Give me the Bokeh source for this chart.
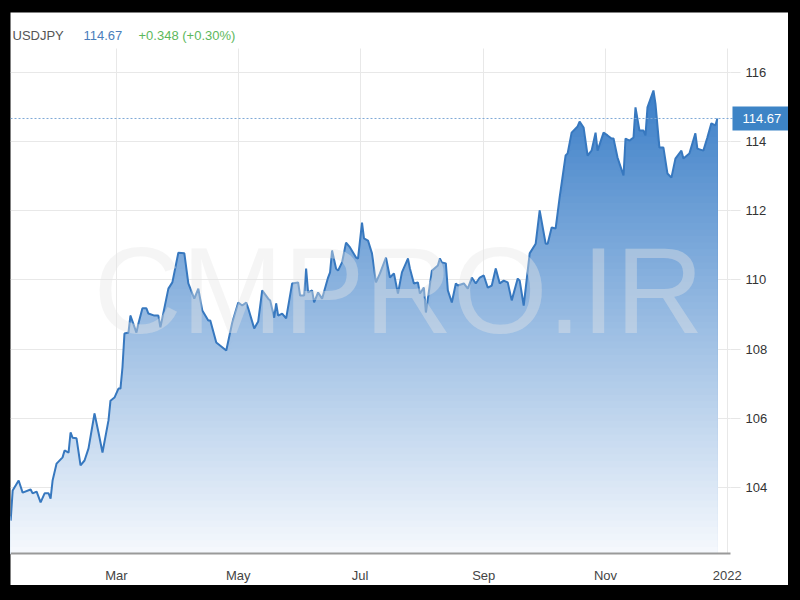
import numpy as np
import pandas as pd
from bokeh.plotting import figure
from bokeh.models import Range1d, FixedTicker, Span, Label
from bokeh.embed import file_html
from bokeh.resources import INLINE

symbol = "USDJPY"
last_price_text = "114.67"
change_text = "+0.348 (+0.30%)"
watermark = "CMPRO.IR"

dates = [
    "2021-01-07", "2021-01-08", "2021-01-11", "2021-01-13", "2021-01-17", "2021-01-18",
    "2021-01-20", "2021-01-22", "2021-01-24", "2021-01-26", "2021-01-27", "2021-01-28",
    "2021-01-30", "2021-02-02", "2021-02-03", "2021-02-05", "2021-02-06", "2021-02-07",
    "2021-02-09", "2021-02-11", "2021-02-13", "2021-02-15", "2021-02-18", "2021-02-20",
    "2021-02-22", "2021-02-25", "2021-02-26", "2021-02-28", "2021-03-02", "2021-03-03",
    "2021-03-04", "2021-03-05", "2021-03-07", "2021-03-08", "2021-03-11", "2021-03-12",
    "2021-03-14", "2021-03-16", "2021-03-17", "2021-03-20", "2021-03-22", "2021-03-23",
    "2021-03-27", "2021-03-29", "2021-04-01", "2021-04-04", "2021-04-06", "2021-04-09",
    "2021-04-11", "2021-04-13", "2021-04-16", "2021-04-17", "2021-04-20", "2021-04-25",
    "2021-04-28", "2021-05-01", "2021-05-03", "2021-05-05", "2021-05-06", "2021-05-09",
    "2021-05-11", "2021-05-13", "2021-05-16", "2021-05-17", "2021-05-19", "2021-05-20",
    "2021-05-21", "2021-05-23", "2021-05-25", "2021-05-28", "2021-05-31", "2021-06-01",
    "2021-06-03", "2021-06-04", "2021-06-05", "2021-06-07", "2021-06-08", "2021-06-10",
    "2021-06-12", "2021-06-15", "2021-06-16", "2021-06-17", "2021-06-19", "2021-06-20",
    "2021-06-22", "2021-06-24", "2021-06-26", "2021-06-29", "2021-06-30", "2021-07-02",
    "2021-07-03", "2021-07-05", "2021-07-07", "2021-07-09", "2021-07-11", "2021-07-14",
    "2021-07-16", "2021-07-18", "2021-07-20", "2021-07-22", "2021-07-25", "2021-07-26",
    "2021-07-28", "2021-07-30", "2021-07-31", "2021-08-02", "2021-08-03", "2021-08-06",
    "2021-08-09", "2021-08-10", "2021-08-11", "2021-08-13", "2021-08-14", "2021-08-16",
    "2021-08-18", "2021-08-19", "2021-08-22", "2021-08-24", "2021-08-26", "2021-08-28",
    "2021-08-30", "2021-09-01", "2021-09-03", "2021-09-05", "2021-09-07", "2021-09-09",
    "2021-09-11", "2021-09-13", "2021-09-15", "2021-09-18", "2021-09-19", "2021-09-21",
    "2021-09-24", "2021-09-27", "2021-09-29", "2021-10-02", "2021-10-03", "2021-10-05",
    "2021-10-07", "2021-10-09", "2021-10-12", "2021-10-13", "2021-10-15", "2021-10-18",
    "2021-10-19", "2021-10-21", "2021-10-23", "2021-10-25", "2021-10-27", "2021-10-28",
    "2021-10-31", "2021-11-02", "2021-11-04", "2021-11-05", "2021-11-07", "2021-11-10",
    "2021-11-11", "2021-11-13", "2021-11-15", "2021-11-16", "2021-11-18", "2021-11-20",
    "2021-11-21", "2021-11-22", "2021-11-25", "2021-11-26", "2021-11-28", "2021-11-30",
    "2021-12-02", "2021-12-04", "2021-12-06", "2021-12-09", "2021-12-10", "2021-12-13",
    "2021-12-16", "2021-12-17", "2021-12-20", "2021-12-22", "2021-12-24", "2021-12-26",
    "2021-12-27",
]

prices = [
    103.04, 103.91, 104.20, 103.85, 103.94, 103.83,
    103.88, 103.57, 103.83, 103.83, 103.68, 104.20,
    104.69, 104.87, 105.07, 105.01, 105.59, 105.44,
    105.42, 104.64, 104.78, 105.13, 106.14, 105.59,
    105.01, 105.94, 106.51, 106.60, 106.86, 106.86,
    107.47, 108.45, 108.48, 108.97, 108.48, 108.74,
    109.18, 109.18, 109.03, 108.97, 108.97, 108.63,
    109.75, 109.93, 110.79, 110.77, 109.90, 109.46,
    109.75, 109.12, 108.83, 108.83, 108.19, 107.96,
    108.77, 109.35, 109.26, 109.35, 109.18, 108.60,
    108.80, 109.70, 109.46, 109.41, 108.91, 109.32,
    108.97, 109.03, 108.89, 109.90, 109.93, 109.55,
    109.55, 110.33, 109.64, 109.70, 109.35, 109.64,
    109.46, 110.07, 110.22, 110.85, 110.33, 110.27,
    110.51, 111.08, 110.94, 110.65, 110.62, 111.66,
    111.20, 111.14, 110.77, 109.93, 110.19, 110.65,
    110.07, 110.19, 109.61, 110.22, 110.62, 110.33,
    109.90, 109.93, 109.61, 109.78, 109.06, 110.27,
    110.42, 110.62, 110.51, 110.48, 109.70, 109.35,
    109.90, 109.84, 109.90, 109.75, 110.07, 109.90,
    110.07, 110.13, 109.78, 109.84, 110.33, 109.90,
    109.98, 109.93, 109.41, 110.04, 109.98, 109.26,
    110.77, 111.05, 112.01, 111.05, 111.05, 111.52,
    111.49, 112.39, 113.60, 113.66, 114.26, 114.44,
    114.58, 114.41, 113.60, 113.74, 114.26, 113.74,
    114.26, 114.18, 114.09, 114.09, 113.54, 113.02,
    114.09, 114.03, 114.12, 114.99, 114.32, 114.32,
    114.18, 114.99, 115.48, 115.10, 113.83, 113.83,
    113.08, 112.96, 113.51, 113.74, 113.51, 113.66,
    114.24, 113.80, 113.74, 114.12, 114.53, 114.47,
    114.67,
]

last_price = 114.67
y_ticks = [104, 106, 108, 110, 112, 114, 116]
x_tick_dates = ["2021-03-01", "2021-05-01", "2021-07-01", "2021-09-01", "2021-11-01", "2022-01-01"]
x_tick_labels = ["Mar", "May", "Jul", "Sep", "Nov", "2022"]

FONT = "Liberation Sans"

x = pd.to_datetime(dates)
vals = np.array(prices, dtype=float)


def ms(ts):
    return float(pd.Timestamp(ts).value // 10**6)


# the frame covers the whole white panel; axes are pinned inside it
x_start = ms("2021-01-06 22:00")       # left edge of the chart
x_axis_end = ms("2022-01-02 14:00")    # right edge of the plotting area (y axis position)
x_end = ms("2022-01-31 15:30")         # right edge of the white panel
y_axis_pos = 102.09                     # x axis position (bottom of the plotting area)
y_plot_top = 116.69
y_start, y_end = 101.165, 117.735

p = figure(
    width=778, height=573,
    x_axis_type="datetime", y_axis_location="right",
    x_range=Range1d(x_start, x_end), y_range=Range1d(y_start, y_end),
    output_backend="svg", toolbar_location=None,
    min_border_left=0, min_border_right=0, min_border_top=0, min_border_bottom=0,
    background_fill_color="white", border_fill_color="white",
    outline_line_color=None,
)

# gradient area: stacked, progressively lower-capped layers
top_rgb = np.array([60, 127, 200], dtype=float)
bot_rgb = np.array([246, 249, 253], dtype=float)
ytop = vals.max()
n_bands = 70
caps = np.linspace(y_axis_pos, ytop, n_bands + 1)[1:]
step = caps[1] - caps[0]
for i, hi in enumerate(caps[::-1]):
    t = (hi - step / 2 - y_axis_pos) / (ytop - y_axis_pos)
    rgb = bot_rgb + (top_rgb - bot_rgb) * t
    col = "#%02x%02x%02x" % tuple(int(round(c)) for c in rgb)
    cap = vals if i == 0 else np.minimum(vals, hi)
    p.varea(x=x, y1=y_axis_pos, y2=cap, fill_color=col, fill_alpha=1.0)

p.line(x=x, y=vals, line_color="#3778bf", line_width=2)

# watermark
p.add_layout(Label(x=388, y=295, x_units="screen", y_units="screen", text=watermark,
                   text_align="center", text_baseline="middle",
                   text_font=FONT, text_font_size="122px",
                   text_color="#e6e6e6", text_alpha=0.4))

# last price dotted line
p.add_layout(Span(location=last_price, dimension="width", line_color="#7fa9d6",
                  line_dash="2 2", line_width=1))

# price box
price_box = Label(x=x_axis_end, y=last_price, text=last_price_text, x_offset=2,
                  text_align="left", text_baseline="middle",
                  text_font=FONT, text_font_size="13px", text_color="white",
                  background_fill_color="#3d84c6")
try:
    price_box.padding = {"left": 10, "right": 8, "top": 8, "bottom": 7}
except Exception:
    price_box.padding = 9
p.add_layout(price_box)

# header
p.add_layout(Label(x=x_start, y=y_end, x_offset=2, y_offset=-23, text=symbol,
                   text_baseline="middle", text_font=FONT, text_font_size="13px",
                   text_color="#555555"))
p.add_layout(Label(x=x_start, y=y_end, x_offset=73, y_offset=-23, text=last_price_text,
                   text_baseline="middle", text_font=FONT, text_font_size="13px",
                   text_color="#4a7ebb"))
p.add_layout(Label(x=x_start, y=y_end, x_offset=128, y_offset=-23, text=change_text,
                   text_baseline="middle", text_font=FONT, text_font_size="13px",
                   text_color="#5cb85c"))

# axes
tick_ms = [ms(d) for d in x_tick_dates]
xa = p.xaxis[0]
xa.fixed_location = y_axis_pos
xa.bounds = (x_start, x_axis_end)
xa.ticker = FixedTicker(ticks=tick_ms)
xa.major_label_overrides = {t: lab for t, lab in zip(tick_ms, x_tick_labels)}
xa.axis_line_color = "#9a9a9a"
xa.axis_line_width = 2
xa.major_tick_line_color = None
xa.minor_tick_line_color = None
xa.major_label_standoff = 8
xa.major_label_text_font = FONT
xa.major_label_text_font_size = "13px"
xa.major_label_text_color = "#444444"

ya = p.yaxis[0]
ya.fixed_location = x_axis_end
ya.ticker = FixedTicker(ticks=y_ticks)
ya.axis_line_color = None
ya.major_tick_line_color = "#e6e6e6"
ya.major_tick_in = 0
ya.major_tick_out = 10
ya.minor_tick_line_color = None
ya.major_label_standoff = 5
ya.major_label_text_font = FONT
ya.major_label_text_font_size = "13px"
ya.major_label_text_color = "#333333"

xg = p.xgrid[0]
yg = p.ygrid[0]
xg.ticker = FixedTicker(ticks=tick_ms)
yg.ticker = FixedTicker(ticks=y_ticks)
xg.grid_line_color = "#e8e8e8"
yg.grid_line_color = "#e8e8e8"
if "cross_bounds" in xg.properties():
    xg.cross_bounds = (y_axis_pos, y_plot_top)
    yg.cross_bounds = (x_start, x_axis_end)

html = file_html(p, INLINE)
css = ("<style>html, body { background: #000000 !important; overflow: hidden; } "
       "body { margin: 0 !important; padding: 12px 0 0 10px !important; }</style>")
html = html.replace("</head>", css + "</head>", 1)
open("out.html", "w").write(html)
